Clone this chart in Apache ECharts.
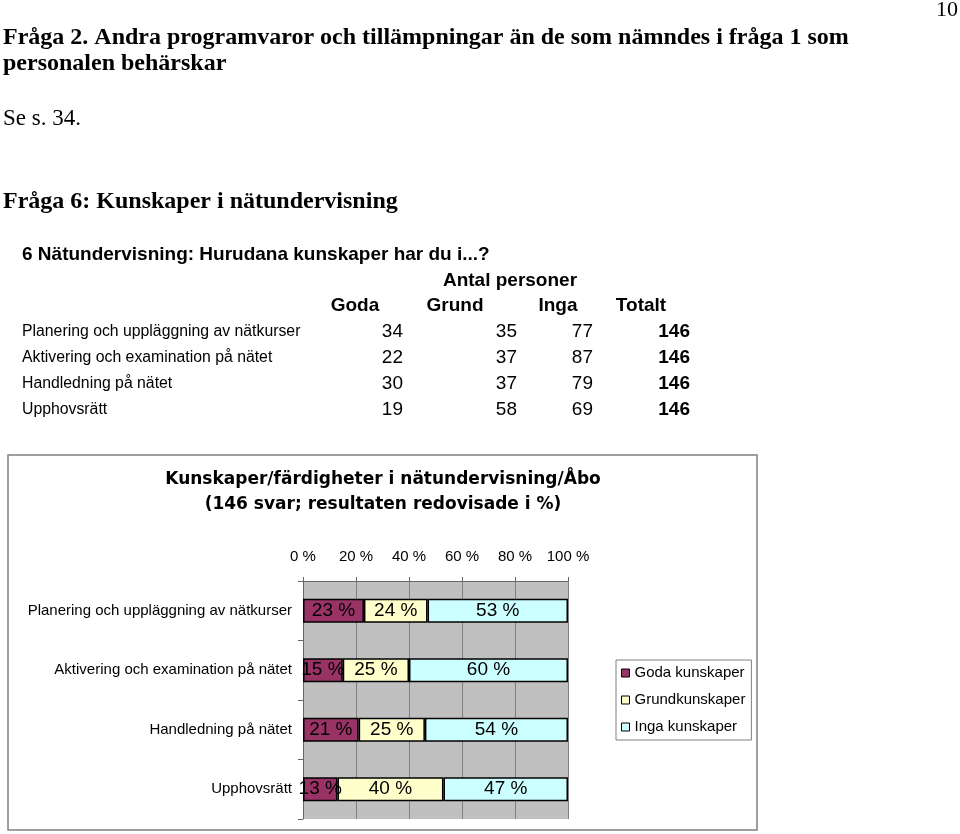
<!DOCTYPE html>
<html>
<head>
<meta charset="utf-8">
<script src="https://cdn.jsdelivr.net/npm/echarts@6/dist/echarts.min.js"></script>
<style>
html,body{margin:0;padding:0;background:#fff;}
#chart{width:960px;height:834px;}
</style>
</head>
<body>
<div id="chart"></div>
<script>
// ---- data ----
const categories = [
  'Planering och uppläggning av nätkurser',
  'Aktivering och examination på nätet',
  'Handledning på nätet',
  'Upphovsrätt'
];
const godaCount  = [34, 22, 30, 19];
const grundCount = [35, 37, 37, 58];
const ingaCount  = [77, 87, 79, 69];
const totaltCount = [146, 146, 146, 146];
const tableHeaders = ['Goda', 'Grund', 'Inga', 'Totalt'];

const seriesNames = ['Goda kunskaper', 'Grundkunskaper', 'Inga kunskaper'];
const godaPct  = [23, 15, 21, 13];
const grundPct = [24, 25, 25, 40];
const ingaPct  = [53, 60, 54, 47];

const docLines = {
  pageNo: '10',
  q2a: 'Fråga 2. Andra programvaror och tillämpningar än de som nämndes i fråga 1 som',
  q2b: 'personalen behärskar',
  see: 'Se s. 34.',
  q6: 'Fråga 6: Kunskaper i nätundervisning',
  tableTitle: '6 Nätundervisning: Hurudana kunskaper har du i...?',
  tableGroup: 'Antal personer'
};
const chartTitle = 'Kunskaper/färdigheter i nätundervisning/Åbo\n(146 svar; resultaten redovisade i %)';

// ---- layout / styles ----
const SERIF = '"Liberation Serif","Times New Roman",serif';
const SANS = '"Liberation Sans",Arial,sans-serif';
const colors = ['#993366', '#FFFFCC', '#CCFFFF'];

function txt(text, x, y, font, align) {
  return {
    type: 'text', silent: true,
    style: { text: text, x: x, y: y, font: font, fill: '#000',
             textAlign: align || 'left', textVerticalAlign: 'middle' }
  };
}

const graphics = [];
graphics.push({
  type: 'rect', silent: true, z: -10,
  shape: { x: 8, y: 455, width: 749, height: 375 },
  style: { fill: 'none', stroke: '#808080', lineWidth: 1.5 }
});
graphics.push(txt(docLines.pageNo, 958, 10, '22px ' + SERIF, 'right'));
graphics.push(txt(docLines.q2a, 3, 38, 'bold 24px ' + SERIF));
graphics.push(txt(docLines.q2b, 3, 64, 'bold 24px ' + SERIF));
graphics.push(txt(docLines.see, 3, 119, '23px ' + SERIF));
graphics.push(txt(docLines.q6, 3, 202, 'bold 24px ' + SERIF));
graphics.push(txt(docLines.tableTitle, 22, 255, 'bold 19px ' + SANS));
graphics.push(txt(docLines.tableGroup, 510, 281, 'bold 19px ' + SANS, 'center'));

const headerX = [355, 455, 558, 641];
tableHeaders.forEach(function (h, i) {
  graphics.push(txt(h, headerX[i], 306, 'bold 19px ' + SANS, 'center'));
});
const colRight = [403, 517, 593, 690];
const rowY0 = 332, rowStep = 26;
categories.forEach(function (c, i) {
  const y = rowY0 + rowStep * i;
  graphics.push(txt(c, 22, y, '15.8px ' + SANS));
  graphics.push(txt(String(godaCount[i]), colRight[0], y, '19px ' + SANS, 'right'));
  graphics.push(txt(String(grundCount[i]), colRight[1], y, '19px ' + SANS, 'right'));
  graphics.push(txt(String(ingaCount[i]), colRight[2], y, '19px ' + SANS, 'right'));
  graphics.push(txt(String(totaltCount[i]), colRight[3], y, 'bold 19px ' + SANS, 'right'));
});
graphics.push({
  type: 'text', silent: true,
  style: { text: chartTitle, x: 383, y: 467, font: 'bold 17px "DejaVu Sans",sans-serif',
           fill: '#000', textAlign: 'center', textVerticalAlign: 'top', lineHeight: 25 }
});

const pctData = [godaPct, grundPct, ingaPct];
const series = seriesNames.map(function (name, i) {
  return {
    name: name, type: 'bar', stack: 'total', barWidth: 24,
    data: pctData[i],
    itemStyle: { color: colors[i], borderColor: '#000', borderWidth: 1.5 },
    label: { show: true, position: 'inside', formatter: '{c} %',
             fontFamily: SANS, fontSize: 19, color: '#000' },
    emphasis: { disabled: true },
    animation: false
  };
});

const chart = echarts.init(document.getElementById('chart'), null, { renderer: 'canvas' });
chart.setOption({
  backgroundColor: '#fff',
  animation: false,
  textStyle: { fontFamily: SANS },
  graphic: graphics,
  grid: { left: 303, top: 581, width: 265, height: 238, show: true,
          backgroundColor: '#C0C0C0', borderWidth: 0, containLabel: false },
  xAxis: {
    type: 'value', position: 'top', min: 0, max: 100, interval: 20,
    axisLine: { show: true, lineStyle: { color: '#666', width: 1 } },
    axisTick: { show: true, length: 4, lineStyle: { color: '#666' } },
    splitLine: { show: true, lineStyle: { color: '#808080', width: 1 } },
    axisLabel: { formatter: '{value} %', fontSize: 15, color: '#000', margin: 17 }
  },
  yAxis: {
    type: 'category', data: categories, inverse: true,
    axisLine: { show: true, lineStyle: { color: '#666', width: 1 } },
    axisTick: { show: true, length: 5, lineStyle: { color: '#666' } },
    axisLabel: { fontSize: 15, color: '#000', margin: 11 }
  },
  legend: {
    data: seriesNames, orient: 'vertical', left: 616, top: 660,
    padding: [5, 6, 5, 5], itemGap: 11, itemWidth: 8, itemHeight: 8, itemTextGap: 8,
    borderColor: '#808080', borderWidth: 1, icon: 'rect',
    itemStyle: { borderColor: '#000', borderWidth: 1 },
    textStyle: { fontSize: 15, color: '#000', lineHeight: 16 },
    selectedMode: false
  },
  series: series
});
</script>
</body>
</html>
